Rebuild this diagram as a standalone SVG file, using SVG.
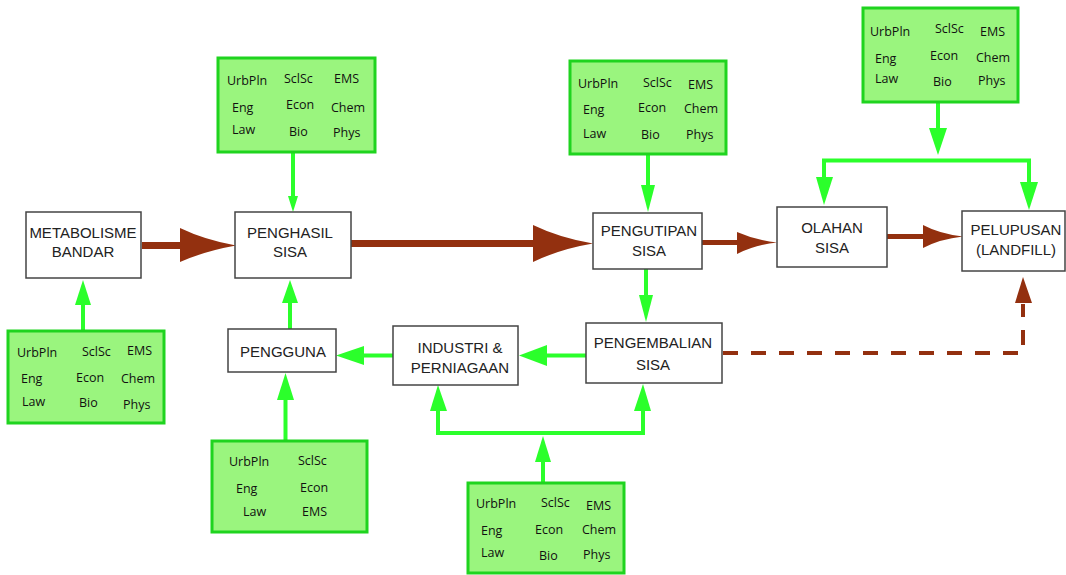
<svg xmlns="http://www.w3.org/2000/svg" width="1066" height="575" viewBox="0 0 1066 575">
<style>
.node{fill:#fff;stroke:#444;stroke-width:1.5}
.nt{font-family:"Liberation Sans",Arial,sans-serif;font-size:15px;fill:#222;text-anchor:middle}
.gb{fill:#9af57e;stroke:#1fd41f;stroke-width:3}
.gt{font-family:"Open Sans","Noto Sans",sans-serif;font-size:12.5px;fill:#111}
.gl{stroke:#2bff2b;stroke-width:4;fill:none}
.gh{fill:#2bff2b}
.bl{stroke:#93300f;fill:none}
.bh{fill:#93300f}
</style>
<rect width="1066" height="575" fill="#fff"/>
<g id="connectors">
  <!-- brown main flow -->
  <line class="bl" x1="142" y1="245.5" x2="184" y2="245.5" stroke-width="7"/>
  <path class="bh" d="M180,228 Q205,240 236,245.5 Q205,251 180,262 Z"/>
  <line class="bl" x1="351" y1="243.5" x2="537" y2="243.5" stroke-width="7"/>
  <path class="bh" d="M533,225 Q560,238 593,243.5 Q560,249 533,262 Z"/>
  <line class="bl" x1="702" y1="242.5" x2="740" y2="242.5" stroke-width="5"/>
  <path class="bh" d="M737,232 Q755,240 777,242.5 Q755,245 737,254 Z"/>
  <line class="bl" x1="887" y1="236.5" x2="926" y2="236.5" stroke-width="5"/>
  <path class="bh" d="M923,225 Q940,234 963,236.5 Q940,239 923,248 Z"/>
  <!-- dashed to landfill -->
  <polyline class="bl" points="723,353 1023,353 1023,304" stroke-width="4" stroke-dasharray="15,13"/>
  <polygon class="bh" points="1015,303 1023,277 1032,303"/>
  <!-- green: top boxes -->
  <line class="gl" x1="293" y1="152" x2="293" y2="198" stroke-width="2"/>
  <polygon class="gh" points="288,196 293,212 298,196"/>
  <line class="gl" x1="648" y1="154" x2="648" y2="188" stroke-width="3"/>
  <polygon class="gh" points="641,185 648,212 655,185"/>
  <line class="gl" x1="938" y1="102" x2="938" y2="131"/>
  <polygon class="gh" points="929,128 938,155 947,128"/>
  <polyline class="gl" points="824,180 824,160.5 1029,160.5 1029,185"/>
  <polygon class="gh" points="816,177 824,205 833,177"/>
  <polygon class="gh" points="1020,182 1029,210 1038,182"/>
  <!-- bottom-left box to metabolisme -->
  <line class="gl" x1="83" y1="331" x2="83" y2="302"/>
  <polygon class="gh" points="75,305 83,280 91,305"/>
  <!-- pengguna to penghasil -->
  <line class="gl" x1="290" y1="329" x2="290" y2="300"/>
  <polygon class="gh" points="282,303 290,280 298,303"/>
  <!-- box E to pengguna -->
  <line class="gl" x1="285.5" y1="441" x2="285.5" y2="398"/>
  <polygon class="gh" points="277,400 285.5,373 294,400"/>
  <!-- industri to pengguna -->
  <line class="gl" x1="393" y1="355.5" x2="360" y2="355.5"/>
  <polygon class="gh" points="364,346 336,355.5 364,365"/>
  <!-- pengembalian to industri -->
  <line class="gl" x1="586" y1="355.5" x2="544" y2="355.5"/>
  <polygon class="gh" points="547,345 519,355.5 547,366"/>
  <!-- pengutipan to pengembalian -->
  <line class="gl" x1="646" y1="269" x2="646" y2="298"/>
  <polygon class="gh" points="639,295 646,322 653,295"/>
  <!-- box F split -->
  <line class="gl" x1="543" y1="483" x2="543" y2="459"/>
  <polygon class="gh" points="535,462 543,436 551,462"/>
  <polyline class="gl" points="438,408 438,433 643,433 643,408"/>
  <polygon class="gh" points="430,411 438,385 447,411"/>
  <polygon class="gh" points="634,411 643,384 651,411"/>
</g>
<g id="metabolisme">
  <rect class="node" x="26" y="212" width="115" height="66"/>
  <text class="nt" x="83" y="238">METABOLISME</text>
  <text class="nt" x="83" y="257">BANDAR</text>
</g>
<g id="penghasil">
  <rect class="node" x="235" y="212" width="116" height="66"/>
  <text class="nt" x="290" y="238">PENGHASIL</text>
  <text class="nt" x="290" y="257">SISA</text>
</g>
<g id="pengutipan">
  <rect class="node" x="593" y="213" width="109" height="56"/>
  <text class="nt" x="649" y="236">PENGUTIPAN</text>
  <text class="nt" x="649" y="256">SISA</text>
</g>
<g id="olahan">
  <rect class="node" x="777" y="207" width="110" height="60"/>
  <text class="nt" x="832" y="233">OLAHAN</text>
  <text class="nt" x="832" y="253">SISA</text>
</g>
<g id="pelupusan">
  <rect class="node" x="962" y="211" width="103" height="60"/>
  <text class="nt" x="1016" y="235">PELUPUSAN</text>
  <text class="nt" x="1016" y="255">(LANDFILL)</text>
</g>
<g id="pengguna">
  <rect class="node" x="228" y="329" width="108" height="43"/>
  <text class="nt" x="283" y="357">PENGGUNA</text>
</g>
<g id="industri">
  <rect class="node" x="393" y="326" width="125" height="59"/>
  <text class="nt" x="460" y="353">INDUSTRI &amp;</text>
  <text class="nt" x="460" y="373">PERNIAGAAN</text>
</g>
<g id="pengembalian">
  <rect class="node" x="586" y="323" width="136" height="60"/>
  <text class="nt" x="653" y="348">PENGEMBALIAN</text>
  <text class="nt" x="653" y="370">SISA</text>
</g>
<g id="expert-penghasil">
  <rect class="gb" x="218" y="58" width="157" height="94"/>
  <text class="gt" x="227" y="85">UrbPln</text>
  <text class="gt" x="284" y="83">SclSc</text>
  <text class="gt" x="334" y="83">EMS</text>
  <text class="gt" x="232" y="112">Eng</text>
  <text class="gt" x="286" y="109">Econ</text>
  <text class="gt" x="331" y="112">Chem</text>
  <text class="gt" x="232" y="134">Law</text>
  <text class="gt" x="289" y="136">Bio</text>
  <text class="gt" x="333" y="137">Phys</text>
</g>
<g id="expert-pengutipan">
  <rect class="gb" x="570" y="61" width="156" height="93"/>
  <text class="gt" x="578" y="88">UrbPln</text>
  <text class="gt" x="643" y="87">SclSc</text>
  <text class="gt" x="688" y="89">EMS</text>
  <text class="gt" x="583" y="114">Eng</text>
  <text class="gt" x="638" y="112">Econ</text>
  <text class="gt" x="684" y="113">Chem</text>
  <text class="gt" x="583" y="138">Law</text>
  <text class="gt" x="641" y="139">Bio</text>
  <text class="gt" x="686" y="139">Phys</text>
</g>
<g id="expert-olahan">
  <rect class="gb" x="863" y="8" width="155" height="94"/>
  <text class="gt" x="870" y="36">UrbPln</text>
  <text class="gt" x="935" y="33">SclSc</text>
  <text class="gt" x="980" y="36">EMS</text>
  <text class="gt" x="875" y="63">Eng</text>
  <text class="gt" x="930" y="60">Econ</text>
  <text class="gt" x="976" y="62">Chem</text>
  <text class="gt" x="875" y="83">Law</text>
  <text class="gt" x="933" y="86">Bio</text>
  <text class="gt" x="978" y="85">Phys</text>
</g>
<g id="expert-metabolisme">
  <rect class="gb" x="8" y="331" width="156" height="92"/>
  <text class="gt" x="17" y="357">UrbPln</text>
  <text class="gt" x="82" y="356">SclSc</text>
  <text class="gt" x="127" y="355">EMS</text>
  <text class="gt" x="21" y="383">Eng</text>
  <text class="gt" x="76" y="382">Econ</text>
  <text class="gt" x="121" y="383">Chem</text>
  <text class="gt" x="22" y="406">Law</text>
  <text class="gt" x="79" y="407">Bio</text>
  <text class="gt" x="123" y="409">Phys</text>
</g>
<g id="expert-pengguna">
  <rect class="gb" x="212" y="441" width="155" height="91"/>
  <text class="gt" x="229" y="466">UrbPln</text>
  <text class="gt" x="298" y="465">SclSc</text>
  <text class="gt" x="236" y="493">Eng</text>
  <text class="gt" x="300" y="492">Econ</text>
  <text class="gt" x="243" y="516">Law</text>
  <text class="gt" x="302" y="516">EMS</text>
</g>
<g id="expert-industri">
  <rect class="gb" x="468" y="483" width="156" height="90"/>
  <text class="gt" x="476" y="508">UrbPln</text>
  <text class="gt" x="541" y="507">SclSc</text>
  <text class="gt" x="586" y="510">EMS</text>
  <text class="gt" x="481" y="535">Eng</text>
  <text class="gt" x="535" y="534">Econ</text>
  <text class="gt" x="582" y="534">Chem</text>
  <text class="gt" x="481" y="557">Law</text>
  <text class="gt" x="539" y="560">Bio</text>
  <text class="gt" x="583" y="559">Phys</text>
</g>
</svg>
